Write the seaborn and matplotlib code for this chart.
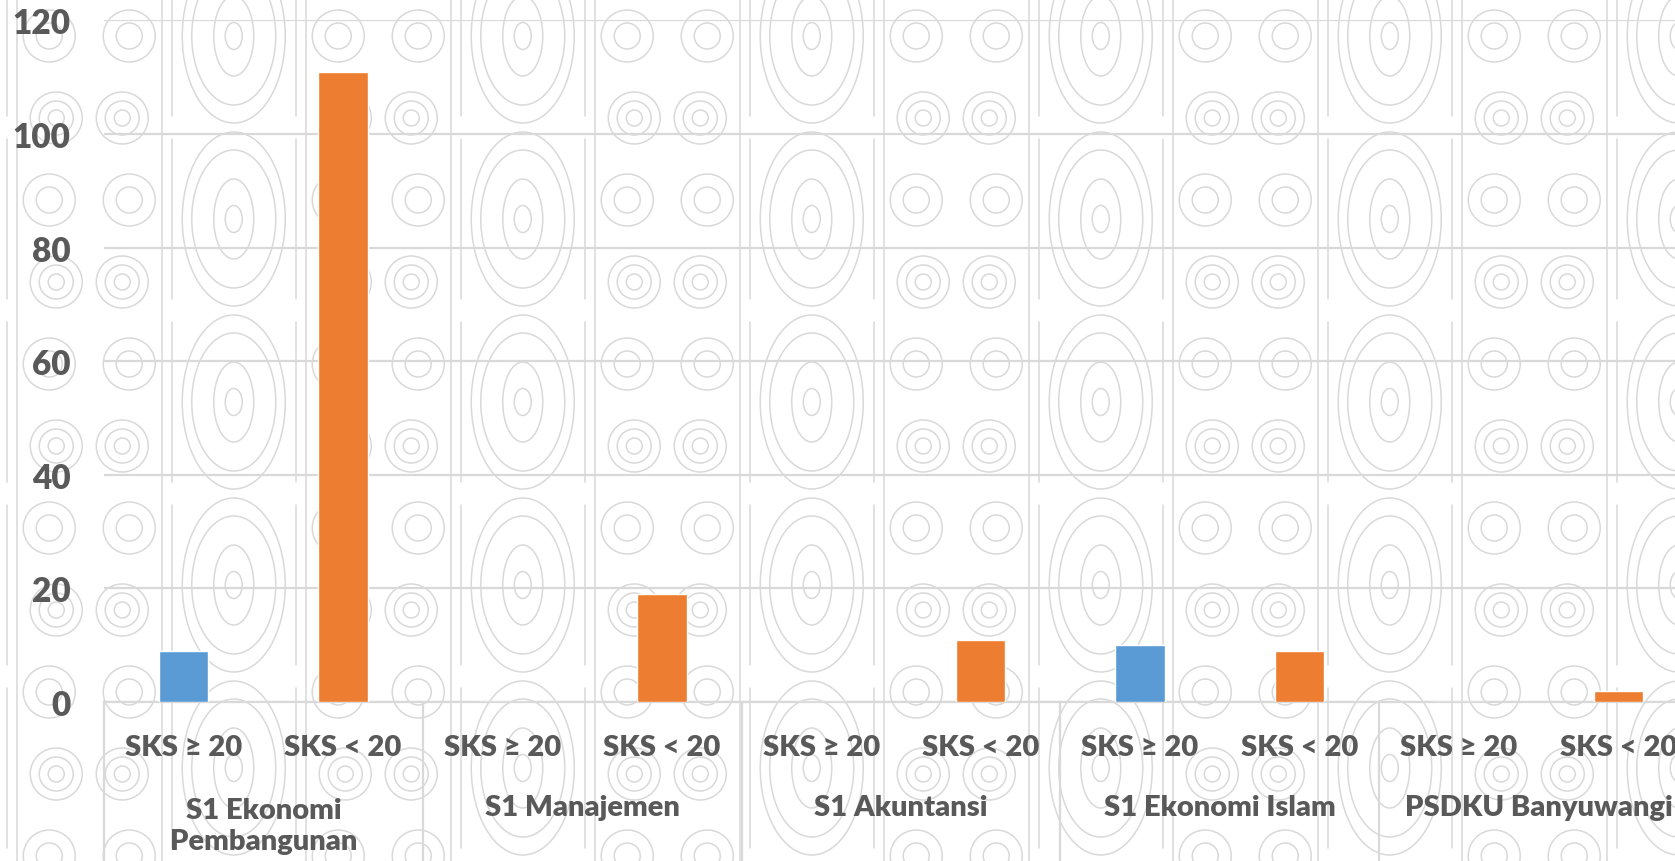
import pandas as pd
import matplotlib.pyplot as plt
import seaborn as sns
import numpy as np
from matplotlib.patches import Ellipse

# -------------------------------
# DATA
prodi = ['S1 Ekonomi\nPembangunan', 'S1 Manajemen', 'S1 Akuntansi',
         'S1 Ekonomi Islam', 'PSDKU Banyuwangi']
kategori = ['SKS ≥ 20', 'SKS < 20']
sks_atas = [9, 0, 0, 10, 0]
sks_bawah = [111, 19, 11, 9, 2]
y_ticks = [0, 20, 40, 60, 80, 100, 120]

rows = []
for i, p in enumerate(prodi):
    rows.append({'key': f'{i}a', 'prodi': p, 'jenis': kategori[0], 'nilai': sks_atas[i]})
    rows.append({'key': f'{i}b', 'prodi': p, 'jenis': kategori[1], 'nilai': sks_bawah[i]})
df = pd.DataFrame(rows)

# -------------------------------
# FIGURE
W, H = 1675, 862
sns.set_style("white")
plt.rcParams['font.family'] = ['Lato', 'DejaVu Sans']
plt.rcParams['font.weight'] = 'heavy'
fig = plt.figure(figsize=(W / 100, H / 100), dpi=100)

# watermark pattern in the background (pixel coords)
bg = fig.add_axes([0, 0, 1, 1], zorder=0)
bg.set_xlim(0, W)
bg.set_ylim(H, 0)
bg.axis('off')
wm = '#d9d9d9'
lw_wm = 1.1
col_w = 144.5
x0 = 17
for c in range(-1, 13):
    xl = x0 + c * col_w
    bg.plot([xl, xl], [0, H], color=wm, lw=lw_wm)
    xc = xl + col_w / 2
    if c % 2 == 1:
        # concentric ovals
        for yc in np.arange(37, H + 100, 183):
            for w_, h_ in [(103, 174), (84, 138), (40, 80), (17, 27)]:
                bg.add_patch(Ellipse((xc, yc), w_, h_, fill=False, ec=wm, lw=lw_wm))
            for xx in (xc - 62, xc + 62):
                bg.plot([xx, xx], [yc - 80, yc + 80], color=wm, lw=lw_wm)
    else:
        # pairs of concentric circles
        for r, yc in enumerate(np.arange(37, H + 80, 82)):
            if r % 2 == 0:
                dx, radii = 40, (26, 13)
            else:
                dx, radii = 33, (26, 17, 8)
            for xx in (xc - dx, xc + dx):
                for rad in radii:
                    bg.add_patch(Ellipse((xx, yc), 2 * rad, 2 * rad, fill=False, ec=wm, lw=lw_wm))

# main axes (extends past the right edge like the original)
ax_left, ax_right = 104, 1698
ax_top, ax_bot = 21.4, 703
ax = fig.add_axes([ax_left / W, 1 - ax_bot / H, (ax_right - ax_left) / W, (ax_bot - ax_top) / H],
                  zorder=1)
ax.set_facecolor('none')

sns.barplot(data=df, x='key', y='nilai', hue='jenis', palette=['#5B9BD5', '#ED7D31'],
            saturation=1, width=0.31, dodge=False, legend=False, ax=ax, zorder=3)

ax.set_xlim(-0.5, len(df) - 0.5)
ax.set_ylim(0, 120)
ax.set_yticks(y_ticks)
ax.yaxis.grid(True, color='#d9d9d9', lw=1.6, zorder=0)
ax.set_axisbelow(True)
for s in ['top', 'right', 'left']:
    ax.spines[s].set_visible(False)
ax.spines['bottom'].set_color('#d9d9d9')
ax.spines['bottom'].set_linewidth(1.6)
ax.tick_params(axis='y', length=0, pad=24, labelsize=24, labelcolor='#595959')
ax.set_xticks([])
ax.set_xlabel('')
ax.set_ylabel('')

# two-level category labels
axh = ax_bot - ax_top
trans = ax.get_xaxis_transform()
txt = '#595959'
for i in range(len(df)):
    ax.text(i, -(748 - ax_bot) / axh, df['jenis'][i], transform=trans, ha='center', va='center',
            fontsize=21, color=txt, clip_on=False)
for g, p in enumerate(prodi):
    yc = 808 if '\n' not in p else 826.5
    ax.text(2 * g + 0.5, -(yc - ax_bot) / axh, p, transform=trans, ha='center', va='center',
            fontsize=21, color=txt, linespacing=1.25, clip_on=False)
for b in np.arange(-0.5, len(df), 2):
    ax.plot([b, b], [0, -(H - ax_bot) / axh], transform=trans, color='#d9d9d9', lw=1.6,
            clip_on=False)

fig.savefig('out.png', dpi=100)
